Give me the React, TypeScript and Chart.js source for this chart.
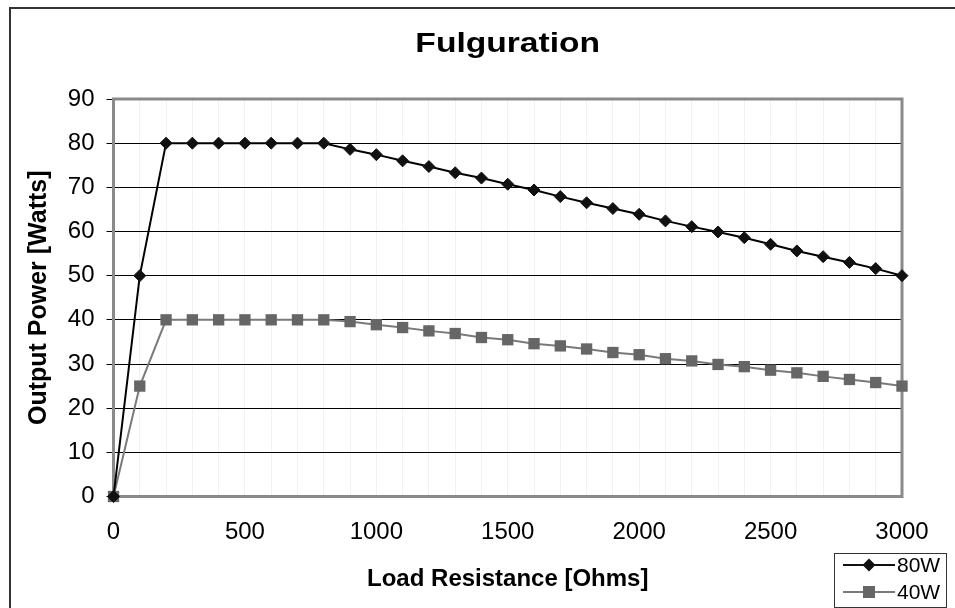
import React, { useEffect, useRef } from 'react';
import { Chart, registerables } from 'chart.js';

Chart.register(...registerables);

const chartTitle = 'Fulguration';
const xAxisTitle = 'Load Resistance [Ohms]';
const yAxisTitle = 'Output Power [Watts]';
const seriesNames = ['80W', '40W'];

const resistance = [
  0, 100, 200, 300, 400, 500, 600, 700, 800, 900, 1000, 1100, 1200, 1300, 1400, 1500,
  1600, 1700, 1800, 1900, 2000, 2100, 2200, 2300, 2400, 2500, 2600, 2700, 2800, 2900, 3000,
];
const power80W = [
  0, 50, 80, 80, 80, 80, 80, 80, 80, 78.6, 77.4, 76.0, 74.7, 73.3, 72.1, 70.7,
  69.4, 67.9, 66.5, 65.2, 63.9, 62.4, 61.1, 59.9, 58.6, 57.1, 55.6, 54.3, 53.0, 51.6, 50,
];
const power40W = [
  0, 25, 40, 40, 40, 40, 40, 40, 40, 39.6, 38.9, 38.25, 37.5, 36.9, 36.0, 35.5,
  34.6, 34.1, 33.4, 32.6, 32.1, 31.2, 30.7, 29.9, 29.4, 28.6, 28.0, 27.2, 26.5, 25.8, 25.0,
];
const xLabelStep = 500;
const yMax = 90;
const xMax = 3000;

const FONT = '"Liberation Sans", Arial, sans-serif';
const C80 = '#111111';
const C40 = '#666666';
const L40 = '#7a7a7a';

const decorPlugin = {
  id: 'decor',
  beforeDatasetsDraw(chart: any) {
    const { ctx, chartArea: a } = chart;
    ctx.save();
    ctx.strokeStyle = '#8a8a8a';
    ctx.lineWidth = 3;
    ctx.strokeRect(a.left, a.top, a.right - a.left, a.bottom - a.top);
    ctx.restore();
  },
  afterDraw(chart: any) {
    const { ctx, chartArea: a } = chart;
    ctx.save();
    // outer chart frame
    ctx.strokeStyle = '#333333';
    ctx.lineWidth = 2;
    ctx.strokeRect(10, 8, 1200, 1200);
    // title (slightly wide, as in the source)
    ctx.fillStyle = '#000';
    ctx.font = `bold 28px ${FONT}`;
    ctx.textAlign = 'center';
    ctx.textBaseline = 'alphabetic';
    ctx.translate((a.left + a.right) / 2, 52);
    ctx.scale(1.2, 1);
    ctx.fillText(chartTitle, 0, 0);
    ctx.restore();
    ctx.save();
    // legend
    const bx = 834, by = 553, bw = 112, bh = 54;
    ctx.fillStyle = '#fff';
    ctx.fillRect(bx, by, bw, bh);
    ctx.strokeStyle = '#333';
    ctx.lineWidth = 1;
    ctx.strokeRect(bx + 0.5, by + 0.5, bw, bh);
    const rows = [
      { y: 565, line: C80, fill: C80, style: 'diamond', name: seriesNames[0] },
      { y: 592, line: L40, fill: C40, style: 'square', name: seriesNames[1] },
    ];
    rows.forEach((r) => {
      ctx.strokeStyle = r.line;
      ctx.lineWidth = 2;
      ctx.beginPath();
      ctx.moveTo(843, r.y);
      ctx.lineTo(895, r.y);
      ctx.stroke();
      ctx.fillStyle = r.fill;
      ctx.beginPath();
      if (r.style === 'diamond') {
        ctx.moveTo(869 - 6.5, r.y);
        ctx.lineTo(869, r.y - 6.5);
        ctx.lineTo(869 + 6.5, r.y);
        ctx.lineTo(869, r.y + 6.5);
        ctx.closePath();
      } else {
        ctx.rect(869 - 6, r.y - 6, 12, 12);
      }
      ctx.fill();
      ctx.fillStyle = '#000';
      ctx.font = `21px ${FONT}`;
      ctx.textAlign = 'left';
      ctx.textBaseline = 'middle';
      ctx.fillText(r.name, 897, r.y + 1);
    });
    ctx.restore();
  },
};

export default function App() {
  const ref = useRef<HTMLCanvasElement>(null);
  useEffect(() => {
    if (!ref.current) return;
    const d80 = resistance.map((x, i) => ({ x, y: power80W[i] }));
    const d40 = resistance.map((x, i) => ({ x, y: power40W[i] }));
    const chart = new Chart(ref.current, {
      type: 'line',
      data: {
        datasets: [
          {
            label: seriesNames[0],
            data: d80,
            borderColor: '#000',
            borderWidth: 2,
            backgroundColor: C80,
            pointStyle: 'rectRot',
            pointRadius: 6,
            pointBorderWidth: 1,
            pointBorderColor: C80,
            pointBackgroundColor: C80,
            clip: false as any,
            tension: 0,
          },
          {
            label: seriesNames[1],
            data: d40,
            borderColor: L40,
            borderWidth: 2,
            backgroundColor: C40,
            pointStyle: 'rect',
            pointRadius: 8,
            pointBorderWidth: 0,
            pointBorderColor: C40,
            pointBackgroundColor: C40,
            clip: false as any,
            tension: 0,
          },
        ],
      },
      options: {
        animation: false,
        responsive: false,
        devicePixelRatio: 1,
        layout: { padding: { top: 99, right: 53, left: 0, bottom: 0 } },
        plugins: { legend: { display: false }, title: { display: false }, tooltip: { enabled: false } },
        scales: {
          x: {
            type: 'linear',
            min: 0,
            max: xMax,
            afterFit: (s: any) => { s.height = 608 - 496.5; },
            border: { display: false },
            grid: { color: '#f1f1f1', lineWidth: 1, drawTicks: false },
            ticks: {
              stepSize: 100,
              autoSkip: false,
              maxRotation: 0,
              padding: 21,
              color: '#000',
              font: { family: FONT, size: 24 },
              callback: (v: any) => (Number(v) % xLabelStep === 0 ? String(v) : ''),
            },
            title: {
              display: true,
              text: xAxisTitle,
              color: '#000',
              font: { family: FONT, size: 24, weight: 'bold' },
              padding: { top: 0, bottom: 14 },
            },
          },
          y: {
            min: 0,
            max: yMax,
            afterFit: (s: any) => { s.width = 113.5; },
            border: { display: false },
            grid: { color: '#000', lineWidth: 1, drawTicks: true, tickLength: 7 },
            ticks: {
              stepSize: 10,
              padding: 12,
              color: '#000',
              font: { family: FONT, size: 24 },
            },
            title: {
              display: true,
              text: yAxisTitle,
              color: '#000',
              font: { family: FONT, size: 25, weight: 'bold' },
              padding: { top: 24, bottom: 0 },
            },
          },
        },
      },
      plugins: [decorPlugin],
    });
    return () => chart.destroy();
  }, []);
  return (
    <div style={{ position: 'absolute', left: 0, top: 0, width: 955, height: 608, background: '#fff' }}>
      <canvas ref={ref} width={955} height={608} style={{ display: 'block', width: 955, height: 608 }} />
    </div>
  );
}
